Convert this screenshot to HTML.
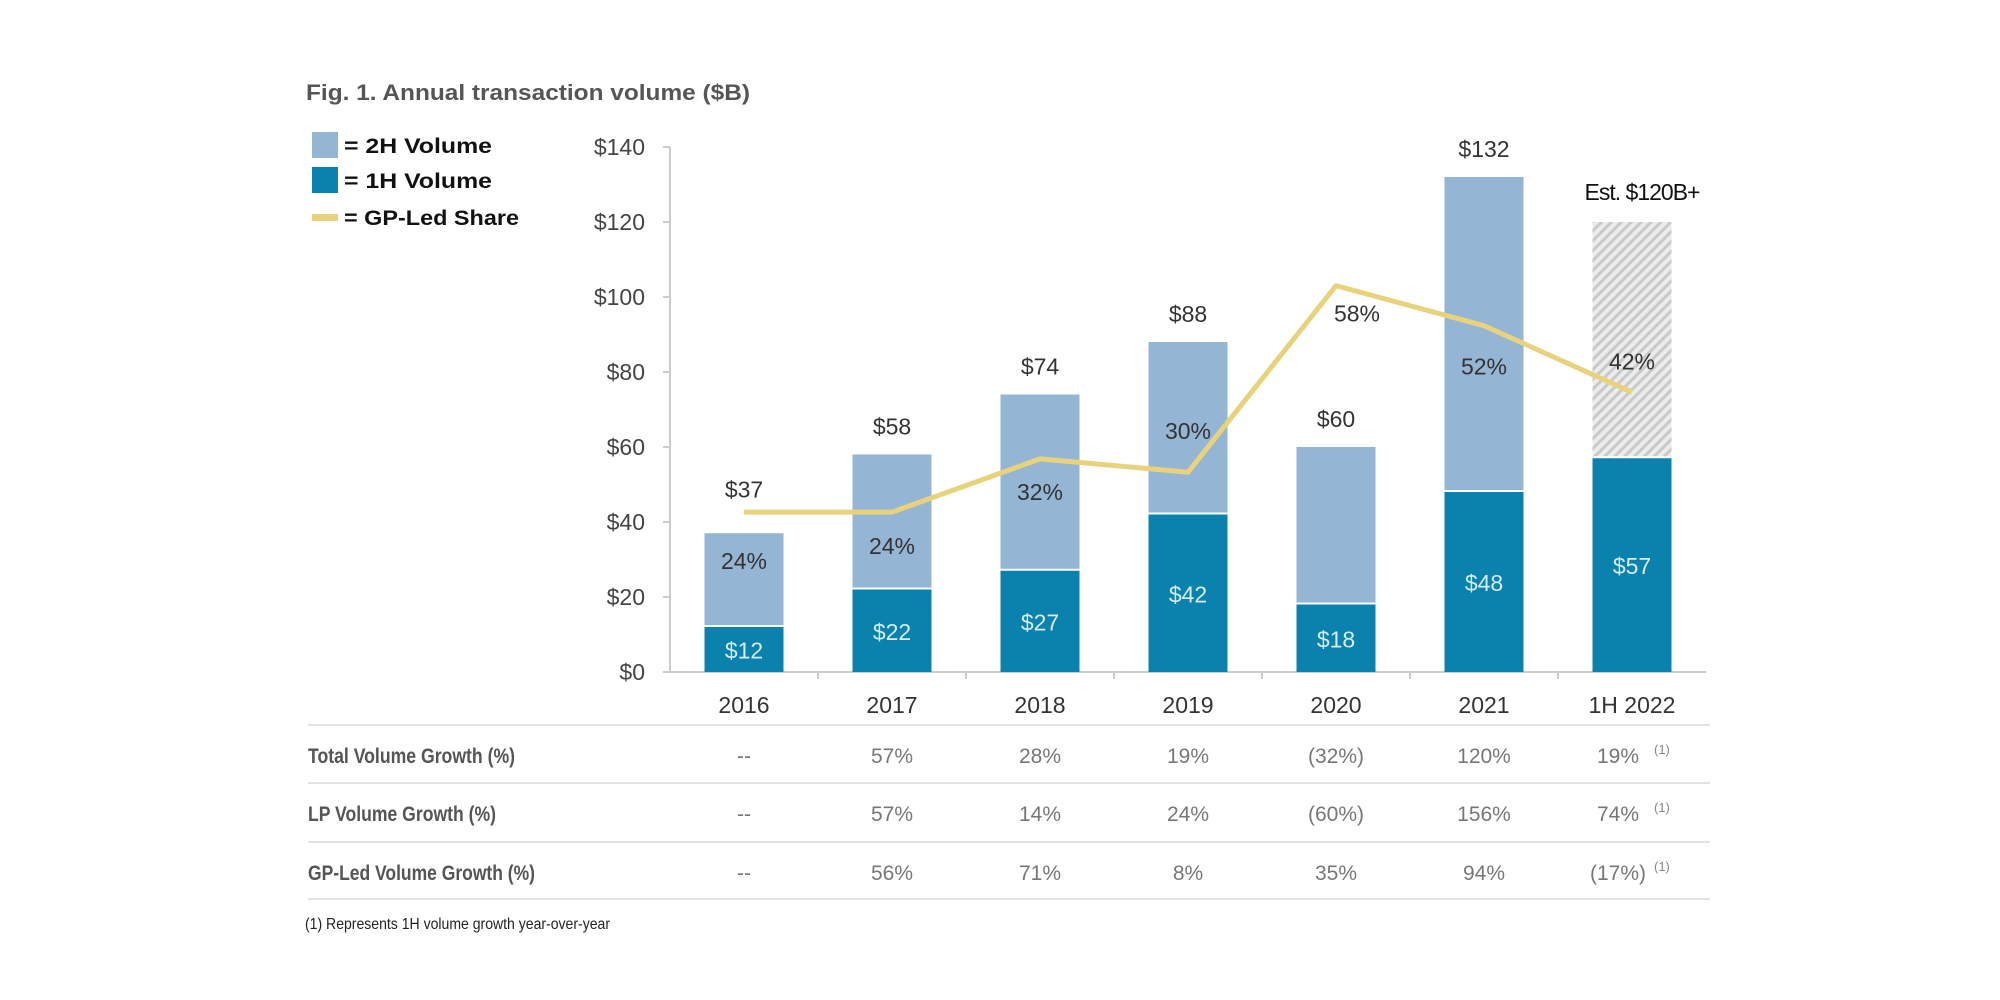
<!DOCTYPE html>
<html><head><meta charset="utf-8"><style>
html,body{margin:0;padding:0;background:#fff;}
svg{display:block;font-family:"Liberation Sans",sans-serif;}
</style></head><body>
<svg id="c" width="2000" height="1000" viewBox="0 0 2000 1000">
<defs>
<pattern id="hatch" width="7" height="7" patternUnits="userSpaceOnUse" patternTransform="rotate(45)">
<rect width="7" height="7" fill="#ececec"/><rect width="3" height="7" fill="#c9c9c9"/>
</pattern>
</defs>
<text x="306" y="100" font-size="22" font-weight="bold" fill="#555" textLength="444" lengthAdjust="spacingAndGlyphs">Fig. 1. Annual transaction volume ($B)</text>
<g>
<rect x="312" y="132" width="26" height="26" fill="#95b5d4"/>
<text x="344" y="153" font-size="21" font-weight="bold" fill="#111" textLength="148" lengthAdjust="spacingAndGlyphs">= 2H Volume</text>
<rect x="312" y="167" width="26" height="26" fill="#0a82ad"/>
<text x="344" y="188" font-size="21" font-weight="bold" fill="#111" textLength="148" lengthAdjust="spacingAndGlyphs">= 1H Volume</text>
<rect x="312" y="214" width="26" height="7" fill="#e9d27c"/>
<text x="344" y="225" font-size="21" font-weight="bold" fill="#111" textLength="175" lengthAdjust="spacingAndGlyphs">= GP-Led Share</text>
</g>
<g id="axes"></g>
<g id="bars"></g>
<g id="line"></g>
<g id="labels"></g>
<g id="table"></g>
<text x="305" y="929" font-size="16" fill="#222" textLength="305" lengthAdjust="spacingAndGlyphs">(1)  Represents 1H volume growth year-over-year</text>
</svg>
<script>
const categories = ["2016","2017","2018","2019","2020","2021","1H 2022"];
const firstHalf = [12,22,27,42,18,48,57];
const totals = [37,58,74,88,60,132,120];
const gpShare = [24,24,32,30,58,52,42];
const yTicks = [0,20,40,60,80,100,120,140];
const rowLabels = ["Total Volume Growth (%)","LP Volume Growth (%)","GP-Led Volume Growth (%)"];
const totalGrowth = ["--","57%","28%","19%","(32%)","120%","19%"];
const lpGrowth = ["--","57%","14%","24%","(60%)","156%","74%"];
const gpGrowth = ["--","56%","71%","8%","35%","94%","(17%)"];

const NS="http://www.w3.org/2000/svg";
const X0=670, BAND=148, BW=79, Y0=672, PX=3.75, PPX=6.66;
const xc=i=>X0+BAND/2+BAND*i;
const y=v=>Y0-v*PX;
const yp=p=>Y0-p*PPX;
function mk(parent,tag,attrs,text){const e=document.createElementNS(NS,tag);for(const k in attrs)e.setAttribute(k,attrs[k]);if(text!=null)e.textContent=text;document.getElementById(parent).appendChild(e);return e;}

let e=mk("axes","line",{x1:X0,y1:y(140),x2:X0,y2:Y0,stroke:"#ccc","stroke-width":2});


e=mk("axes","line",{x1:X0,y1:Y0,x2:X0+BAND*categories.length,y2:Y0,stroke:"#ccc","stroke-width":2});


yTicks.forEach(t=>{
  let l=mk("axes","line",{x1:X0-7,y1:y(t),x2:X0,y2:y(t),stroke:"#ccc","stroke-width":2});
  
  
  let tx=mk("axes","text",{x:X0-25,y:y(t)+8,"font-size":23,fill:"#444","text-anchor":"end"},"$"+t);
  
  
});
categories.forEach((c,i)=>{
  if(i>0){let l=mk("axes","line",{x1:X0+BAND*i,y1:Y0,x2:X0+BAND*i,y2:Y0+7,stroke:"#ccc","stroke-width":2});
  
  }
  let tx=mk("axes","text",{x:xc(i),y:713,"font-size":23,fill:"#333","text-anchor":"middle"},c);
  
  
});

categories.forEach((c,i)=>{
  const last=i===categories.length-1;
  let top=mk("bars","rect",{x:xc(i)-BW/2,y:y(totals[i]),width:BW,height:y(firstHalf[i])-y(totals[i])-2,fill:last?"url(#hatch)":"#95b5d4"});
  
  
  let bot=mk("bars","rect",{x:xc(i)-BW/2,y:y(firstHalf[i]),width:BW,height:Y0-y(firstHalf[i]),fill:"#0a82ad"});
  
  
  let v=mk("labels","text",{x:xc(i),y:(y(firstHalf[i])+Y0)/2+9,"font-size":23,fill:"#d8ecf5","text-anchor":"middle"},"$"+firstHalf[i]);
  
  
  let t;
  if(last){t=mk("labels","text",{x:xc(i)+10,y:y(totals[i])-22,"font-size":23,fill:"#111","text-anchor":"middle","letter-spacing":"-1"},"Est. $"+totals[i]+"B+");}
  else{t=mk("labels","text",{x:xc(i),y:y(totals[i])-(i===0?36:20),"font-size":23,fill:"#333","text-anchor":"middle"},"$"+totals[i]);}
  
  
});

const pts=gpShare.map((p,i)=>xc(i)+","+yp(p)).join(" ");
let pl=mk("line","polyline",{points:pts,fill:"none",stroke:"#e9d27c","stroke-width":5,"stroke-linejoin":"round"});


const pOff=[[0,49],[0,34],[0,33],[0,-41],[21,28],[0,41],[0,-31]];
gpShare.forEach((p,i)=>{
  let tx=mk("labels","text",{x:xc(i)+pOff[i][0],y:yp(p)+pOff[i][1]+8,"font-size":23,fill:"#333","text-anchor":"middle"},p+"%");
  
  
});

const rows=[totalGrowth,lpGrowth,gpGrowth];
const rowY=[755,813,872], lineY=[725,783,842,899];
lineY.forEach(ly=>{let l=mk("table","line",{x1:308,y1:ly,x2:1710,y2:ly,stroke:"#e3e3e3","stroke-width":2});
  
  });
rowLabels.forEach((r,k)=>{
  let tx=mk("table","text",{x:308,y:rowY[k]+8,"font-size":21,"font-weight":"bold",fill:"#555",textLength:[207,188,227][k],lengthAdjust:"spacingAndGlyphs"},r);
  
  
  rows[k].forEach((v,i)=>{
    const last=i===categories.length-1;
    let c=mk("table","text",{x:last?xc(i)-14:xc(i),y:rowY[k]+8,"font-size":21,fill:"#777","text-anchor":"middle"},v);
    
    
    if(last){let s=mk("table","text",{x:xc(i)+22,y:rowY[k]-1,"font-size":13,fill:"#888"},"(1)");
      
      }
  });
});
</script>
</body></html>
